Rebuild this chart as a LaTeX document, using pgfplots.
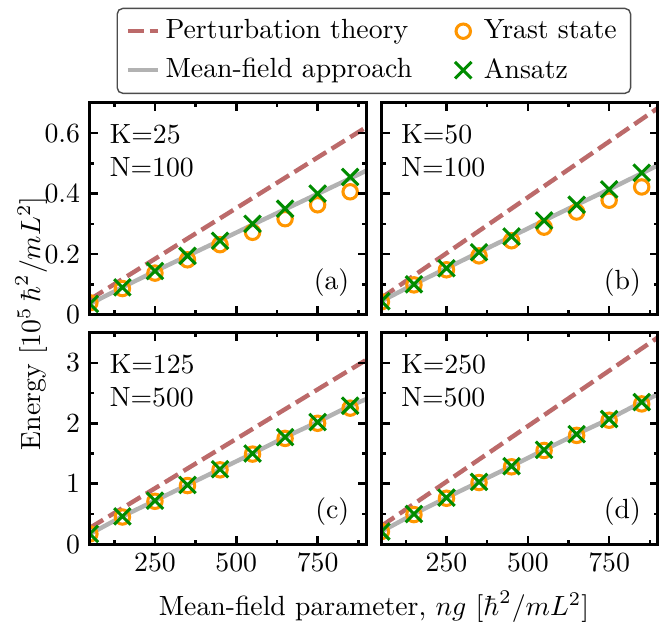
\documentclass[border=0pt]{standalone}
\usepackage{pgfplots}
\pgfplotsset{compat=1.18}
\usepgfplotslibrary{groupplots}

\definecolor{pertc}{RGB}{188,106,106}
\definecolor{mfc}{RGB}{178,178,178}
\definecolor{yrc}{RGB}{255,150,0}
\definecolor{anc}{RGB}{0,140,0}

\pgfplotsset{
  pert/.style={pertc, line width=1.6pt, dash pattern=on 5.6pt off 2.3pt},
  mf/.style={mfc, line width=1.6pt},
  yr/.style={only marks, mark=o, mark size=2.6pt, yrc, line width=1.1pt},
  an/.style={only marks, mark=x, mark size=4.2pt, anc, line width=1.1pt},
}

\begin{document}
\begin{tikzpicture}
\begin{groupplot}[
  group style={group size=2 by 2, horizontal sep=5.4pt, vertical sep=6.5pt,
    x descriptions at=edge bottom, y descriptions at=edge left},
  scale only axis, width=99.7pt, height=76.3pt,
  xmin=50, xmax=900,
  xtick={250,500,750}, minor xtick={125,375,625,875},
  axis line style={line width=1.1pt},
  major tick length=3pt, minor tick length=1.6pt,
  every tick/.style={black, line width=0.9pt},
  clip marker paths=true,
  axis on top,
  legend image code/.code={%
    \path[draw=none, fill=none] (0cm,0cm) rectangle (0.38cm,0.01cm);
    \draw[mark repeat=2,mark phase=2,#1] plot coordinates {(0cm,0cm) (0.19cm,0cm) (0.38cm,0cm)};},
]

% (a)
\nextgroupplot[ymin=0, ymax=0.7, ytick={0,0.2,0.4,0.6}, minor ytick={0.1,0.3,0.5},
  legend columns=2, transpose legend, legend cell align=left,
  legend style={at={(1.027,1.042)}, anchor=south, draw=black!70, rounded corners=2pt,
    line width=0.5pt, row sep=1.5pt, inner xsep=3pt,
    /tikz/every even column/.append style={column sep=11pt}},
]
\addplot[pert] coordinates {(50,0.05) (900,0.62)};
\addlegendentry{Perturbation theory}
\addplot[mf] coordinates {(50,0.035) (150,0.09) (250,0.143) (350,0.194) (450,0.245) (550,0.297) (650,0.348) (750,0.399) (850,0.45) (900,0.476)};
\addlegendentry{Mean-field approach}
\addplot[yr] coordinates {(50,0.039) (150,0.086) (250,0.137) (350,0.181) (450,0.231) (550,0.272) (650,0.317) (750,0.363) (850,0.406)};
\addlegendentry{Yrast state}
\addplot[an] coordinates {(50,0.035) (150,0.09) (250,0.144) (350,0.194) (450,0.244) (550,0.30) (650,0.35) (750,0.40) (850,0.455)};
\addlegendentry{Ansatz}
\node[anchor=north west, align=left, inner sep=0pt] at (rel axis cs:0.07,0.9) {K=25\\N=100};
\node[anchor=south east, inner sep=0pt] at (rel axis cs:0.94,0.085) {(a)};

% (b)
\nextgroupplot[ymin=0, ymax=0.7, ytick={0,0.2,0.4,0.6}, minor ytick={0.1,0.3,0.5}]
\addplot[pert] coordinates {(50,0.055) (900,0.683)};
\addplot[mf] coordinates {(50,0.044) (150,0.10) (250,0.153) (350,0.206) (450,0.258) (550,0.311) (650,0.363) (750,0.414) (850,0.467) (900,0.494)};
\addplot[yr] coordinates {(50,0.042) (150,0.098) (250,0.148) (350,0.194) (450,0.244) (550,0.289) (650,0.339) (750,0.378) (850,0.422)};
\addplot[an] coordinates {(50,0.044) (150,0.10) (250,0.153) (350,0.206) (450,0.258) (550,0.311) (650,0.363) (750,0.414) (850,0.469)};
\node[anchor=north west, align=left, inner sep=0pt] at (rel axis cs:0.07,0.9) {K=50\\N=100};
\node[anchor=south east, inner sep=0pt] at (rel axis cs:0.94,0.085) {(b)};

% (c)
\nextgroupplot[ymin=0, ymax=3.5, ytick={0,1,2,3}, minor ytick={0.5,1.5,2.5},
  xlabel={Mean-field parameter, $ng$ [$\hbar^2/mL^2$]},
  xlabel style={at={(ticklabel cs:1.027)}},
  ylabel={Energy [$10^5\,\hbar^2/mL^2$]},
  ylabel style={at={(ticklabel cs:1.043)}},
]
\addplot[pert] coordinates {(50,0.27) (900,3.05)};
\addplot[mf] coordinates {(50,0.17) (150,0.46) (250,0.72) (350,0.98) (450,1.24) (550,1.50) (650,1.77) (750,2.02) (850,2.29) (900,2.40)};
\addplot[yr] coordinates {(50,0.17) (150,0.45) (250,0.71) (350,0.97) (450,1.23) (550,1.49) (650,1.75) (750,2.00) (850,2.25)};
\addplot[an] coordinates {(50,0.17) (150,0.46) (250,0.72) (350,0.98) (450,1.24) (550,1.50) (650,1.77) (750,2.02) (850,2.29)};
\node[anchor=north west, align=left, inner sep=0pt] at (rel axis cs:0.07,0.9) {K=125\\N=500};
\node[anchor=south east, inner sep=0pt] at (rel axis cs:0.94,0.085) {(c)};

% (d)
\nextgroupplot[ymin=0, ymax=3.5, ytick={0,1,2,3}, minor ytick={0.5,1.5,2.5}]
\addplot[pert] coordinates {(50,0.30) (900,3.42)};
\addplot[mf] coordinates {(50,0.21) (150,0.50) (250,0.77) (350,1.03) (450,1.29) (550,1.56) (650,1.82) (750,2.07) (850,2.35) (900,2.48)};
\addplot[yr] coordinates {(50,0.21) (150,0.49) (250,0.76) (350,1.02) (450,1.28) (550,1.55) (650,1.80) (750,2.05) (850,2.32)};
\addplot[an] coordinates {(50,0.21) (150,0.50) (250,0.77) (350,1.03) (450,1.29) (550,1.56) (650,1.82) (750,2.07) (850,2.35)};
\node[anchor=north west, align=left, inner sep=0pt] at (rel axis cs:0.07,0.9) {K=250\\N=500};
\node[anchor=south east, inner sep=0pt] at (rel axis cs:0.94,0.085) {(d)};
\end{groupplot}
\path (group c1r1.north west) ++(-32.4pt,37.1pt) coordinate (tl);
\path (group c2r2.south east) ++(2.9pt,-24.5pt) coordinate (br);
\end{tikzpicture}
\end{document}
